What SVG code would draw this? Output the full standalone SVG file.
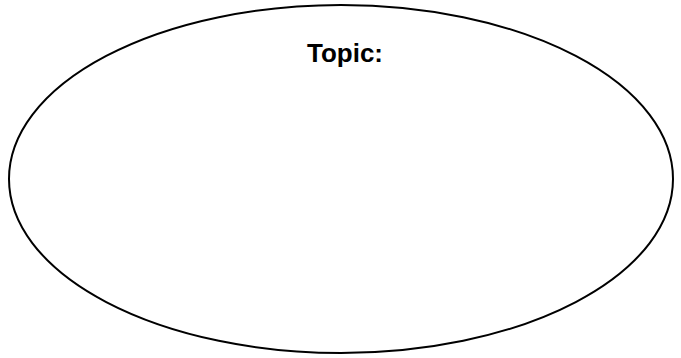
<svg xmlns="http://www.w3.org/2000/svg" width="681" height="358" viewBox="0 0 681 358">
<style>
.shape{fill:#ffffff;stroke:#000000;stroke-width:2}
.label{font-family:"Liberation Sans",Arial,sans-serif;font-weight:bold;font-size:26px;fill:#000000}
</style>
<rect width="681" height="358" fill="#ffffff"/>
<g id="topic">
<ellipse class="shape" cx="341" cy="179" rx="332" ry="174"/>
<text class="label" x="345" y="62" text-anchor="middle" textLength="76" lengthAdjust="spacingAndGlyphs">Topic:</text>
</g>
</svg>
